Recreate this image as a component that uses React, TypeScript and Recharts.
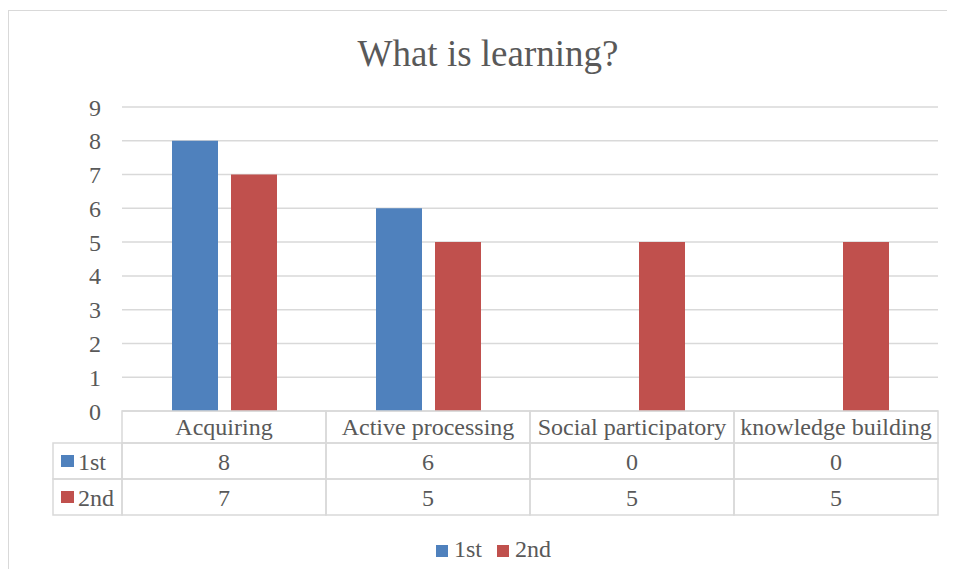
import { BarChart, Bar, XAxis, YAxis, CartesianGrid } from "recharts";

const categories = ["Acquiring", "Active processing", "Social participatory", "knowledge building"];
const firstValues = [8, 6, 0, 0];
const secondValues = [7, 5, 5, 5];
const seriesNames = ["1st", "2nd"];
const seriesColors = ["#4f81bd", "#c0504d"];
const yTicks = [0, 1, 2, 3, 4, 5, 6, 7, 8, 9];

const data = categories.map((name, i) => ({
  name,
  first: firstValues[i],
  second: secondValues[i],
}));

const FONT = "Liberation Serif, serif";
const TEXT = "#595959";
const LINE = "#d9d9d9";
const W = 946;
const H = 560;
const PLOT_BOTTOM = 400;
const COL_W = 204;
const HEADER_H = 32;
const ROW_H = 36;
const KEY_COL_W = 69;

// x axis tick draws one column of the data table under each category
const TableTick = (props: any) => {
  const { x, y, payload } = props;
  const i = payload.index;
  const left = x - COL_W / 2;
  const rows = [firstValues[i], secondValues[i]];
  return (
    <g fill={TEXT} fontFamily={FONT} fontSize={24}>
      <rect x={left} y={y} width={COL_W} height={HEADER_H} fill="none" stroke={LINE} strokeWidth={1.5} />
      <text x={x} y={y + 24} textAnchor="middle">{payload.value}</text>
      {rows.map((v, r) => (
        <g key={r}>
          <rect
            x={left}
            y={y + HEADER_H + r * ROW_H}
            width={COL_W}
            height={ROW_H}
            fill="none"
            stroke={LINE}
            strokeWidth={1.5}
          />
          <text x={x} y={y + HEADER_H + r * ROW_H + 27} textAnchor="middle">{v}</text>
        </g>
      ))}
      {i === 0 &&
        seriesNames.map((s, r) => (
          <g key={s}>
            <rect
              x={left - KEY_COL_W}
              y={y + HEADER_H + r * ROW_H}
              width={KEY_COL_W}
              height={ROW_H}
              fill="none"
              stroke={LINE}
              strokeWidth={1.5}
            />
            <rect x={left - KEY_COL_W + 8} y={y + HEADER_H + r * ROW_H + 12} width={13} height={12} fill={seriesColors[r]} />
            <text x={left - KEY_COL_W + 25} y={y + HEADER_H + r * ROW_H + 27}>{s}</text>
          </g>
        ))}
    </g>
  );
};

export default function App() {
  return (
    <div
      style={{
        position: "relative",
        top: 2,
        width: W,
        height: H,
        borderTop: `1px solid ${LINE}`,
        borderLeft: `1px solid ${LINE}`,
        fontFamily: FONT,
        color: TEXT,
      }}
    >
      <div
        style={{
          position: "absolute",
          top: 24,
          left: 12,
          width: W - 12,
          textAlign: "center",
          fontSize: 37,
          lineHeight: "37px",
          whiteSpace: "nowrap",
        }}
      >
        What is learning?
      </div>
      <BarChart
        width={W}
        height={H}
        data={data}
        margin={{ top: 96, right: 17, bottom: 0, left: 0 }}
        barGap={13}
      >
        <CartesianGrid vertical={false} stroke={LINE} strokeWidth={1.5} />
        <YAxis
          width={113}
          domain={[0, 9]}
          ticks={yTicks}
          interval={0}
          axisLine={false}
          tickLine={false}
          tickSize={0}
          tickMargin={21}
          tick={{ fill: TEXT, fontSize: 24, fontFamily: FONT }}
        />
        <XAxis
          dataKey="name"
          height={H - PLOT_BOTTOM}
          interval={0}
          axisLine={false}
          tickLine={false}
          tickSize={0}
          tickMargin={0}
          tick={<TableTick />}
        />
        <Bar dataKey="first" name={seriesNames[0]} fill={seriesColors[0]} barSize={46} isAnimationActive={false} />
        <Bar dataKey="second" name={seriesNames[1]} fill={seriesColors[1]} barSize={46} isAnimationActive={false} />
      </BarChart>
      <div
        style={{
          position: "absolute",
          top: 526,
          left: 427,
          fontSize: 24,
          lineHeight: "24px",
          whiteSpace: "nowrap",
        }}
      >
        {seriesNames.map((s, i) => (
          <span key={s} style={{ marginRight: i === 0 ? 15 : 0 }}>
            <span
              style={{
                display: "inline-block",
                width: 12,
                height: 12,
                marginRight: 6,
                background: seriesColors[i],
              }}
            />
            {s}
          </span>
        ))}
      </div>
    </div>
  );
}
